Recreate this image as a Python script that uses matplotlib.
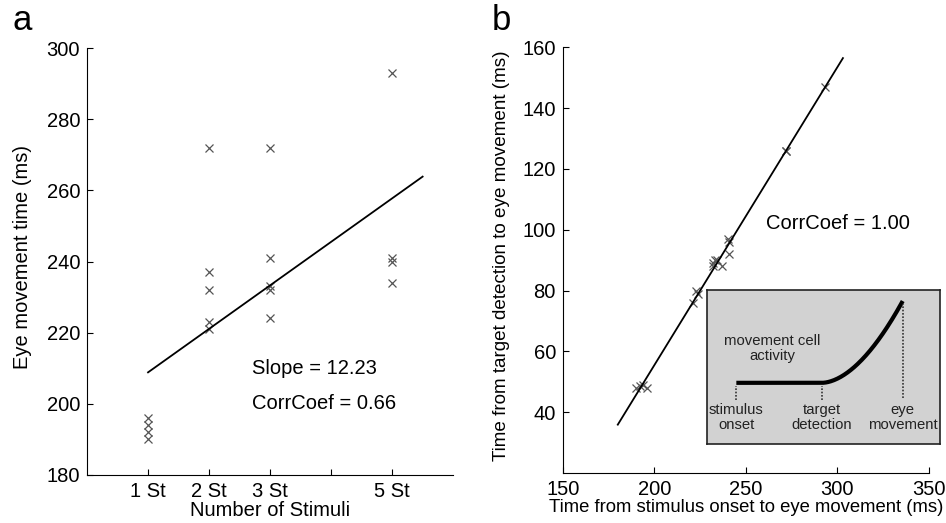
import numpy as np
import matplotlib.pyplot as plt

# panel a: eye movement time per number of stimuli
stim_n = [1, 1, 1, 1,
          2, 2, 2, 2, 2,
          3, 3, 3, 3, 3,
          5, 5, 5, 5]
eye_time = [196, 194, 192, 190,
            272, 237, 232, 223, 221,
            272, 241, 233, 232, 224,
            293, 241, 240, 234]
stim_ticks = [1, 2, 3, 4, 5]
stim_labels = ['1 St', '2 St', '3 St', '', '5 St']
fit_a_slope = 12.23
fit_a_icpt = 196.6
fit_a_range = [1, 5.5]

# panel b: onset->movement vs detection->movement
onset_move = [190, 192, 194, 196,
              221, 223, 224, 232, 232, 233, 234, 237,
              240, 241, 241, 272, 272, 293]
detect_move = [48, 48.5, 49, 48,
               76, 80, 79, 88, 89, 90, 90, 88,
               97, 92, 96, 126, 126, 147]
fit_b_slope = 0.98
fit_b_icpt = -140.5
fit_b_range = [180, 303]

# inset schematic anchors (axes fraction)
t_onset, t_detect, t_move = 0.127, 0.493, 0.839
act_base, act_peak = 0.398, 0.93

plt.rcParams['font.family'] = ['Liberation Sans', 'DejaVu Sans']
plt.rcParams['font.size'] = 14.5
plt.rcParams['axes.spines.top'] = False
plt.rcParams['axes.spines.right'] = False
plt.rcParams['xtick.direction'] = 'in'
plt.rcParams['ytick.direction'] = 'in'

fig = plt.figure(figsize=(9.46, 5.23), dpi=100)
mk = dict(marker='x', ls='none', color='#555555', ms=6, mew=0.9)

# panel a
ax = fig.add_axes([0.092, 0.092, 0.387, 0.816])
ax.plot(stim_n, eye_time, **mk)
xx = np.array(fit_a_range)
ax.plot(xx, fit_a_icpt + fit_a_slope * xx, color='k', lw=1.3)
ax.set_xlim(0, 6)
ax.set_ylim(180, 300)
ax.set_xticks(stim_ticks)
ax.set_xticklabels(stim_labels)
ax.set_yticks(range(180, 301, 20))
ax.tick_params(length=4, pad=5)
ax.set_xlabel('Number of Stimuli', labelpad=0)
ax.set_ylabel('Eye movement time (ms)')
ax.yaxis.set_label_coords(-0.150, 0.51)
ax.text(2.7, 210, 'Slope = 12.23', va='center')
ax.text(2.7, 200, 'CorrCoef = 0.66', va='center')
fig.text(0.013, 0.942, 'a', fontsize=25)

# panel b
bx = fig.add_axes([0.595, 0.0956, 0.387, 0.814])
bx.plot(onset_move, detect_move, **mk)
xx = np.array(fit_b_range)
bx.plot(xx, fit_b_icpt + fit_b_slope * xx, color='k', lw=1.3)
bx.set_xlim(150, 350)
bx.set_ylim(20, 160)
bx.set_xticks(range(150, 351, 50))
bx.set_yticks(range(40, 161, 20))
bx.tick_params(length=4, pad=5)
bx.set_xlabel('Time from stimulus onset to eye movement (ms)', labelpad=0,
              fontsize=13.3)
bx.set_ylabel('Time from target detection to eye movement (ms)',
              fontsize=13.6)
bx.yaxis.set_label_coords(-0.145, 0.51)
bx.text(261, 102, 'CorrCoef = 1.00', va='center')
fig.text(0.52, 0.942, 'b', fontsize=25)

# inset schematic
ix = fig.add_axes([0.747, 0.151, 0.247, 0.294])
ix.set_facecolor('#d2d2d2')
for s in ix.spines.values():
    s.set_visible(True)
    s.set_color('#222222')
    s.set_linewidth(1.2)
ix.set_xticks([])
ix.set_yticks([])
ix.set_xlim(0, 1)
ix.set_ylim(0, 1)
tt = np.linspace(t_onset, t_move, 200)
rise = np.clip((tt - t_detect) / (t_move - t_detect), 0, None) ** 1.8
ix.plot(tt, act_base + (act_peak - act_base) * rise, color='k', lw=3,
        solid_capstyle='butt')
dot = dict(color='#333333', lw=1.2, ls=(0, (1, 1)))
ix.plot([t_onset, t_onset], [0.286, 0.375], **dot)
ix.plot([t_detect, t_detect], [0.286, 0.375], **dot)
ix.plot([t_move, t_move], [0.30, act_peak - 0.02], **dot)
ix.text(0.28, 0.62, 'movement cell\nactivity', ha='center', va='center',
        fontsize=10.7, color='#222222', linespacing=1.1)
for t, lab in zip([t_onset, t_detect, t_move],
                  ['stimulus\nonset', 'target\ndetection', 'eye\nmovement']):
    ix.text(t, 0.17, lab, ha='center', va='center', fontsize=10.7,
            color='#222222', linespacing=1.1)

fig.savefig('out.png', dpi=100)
